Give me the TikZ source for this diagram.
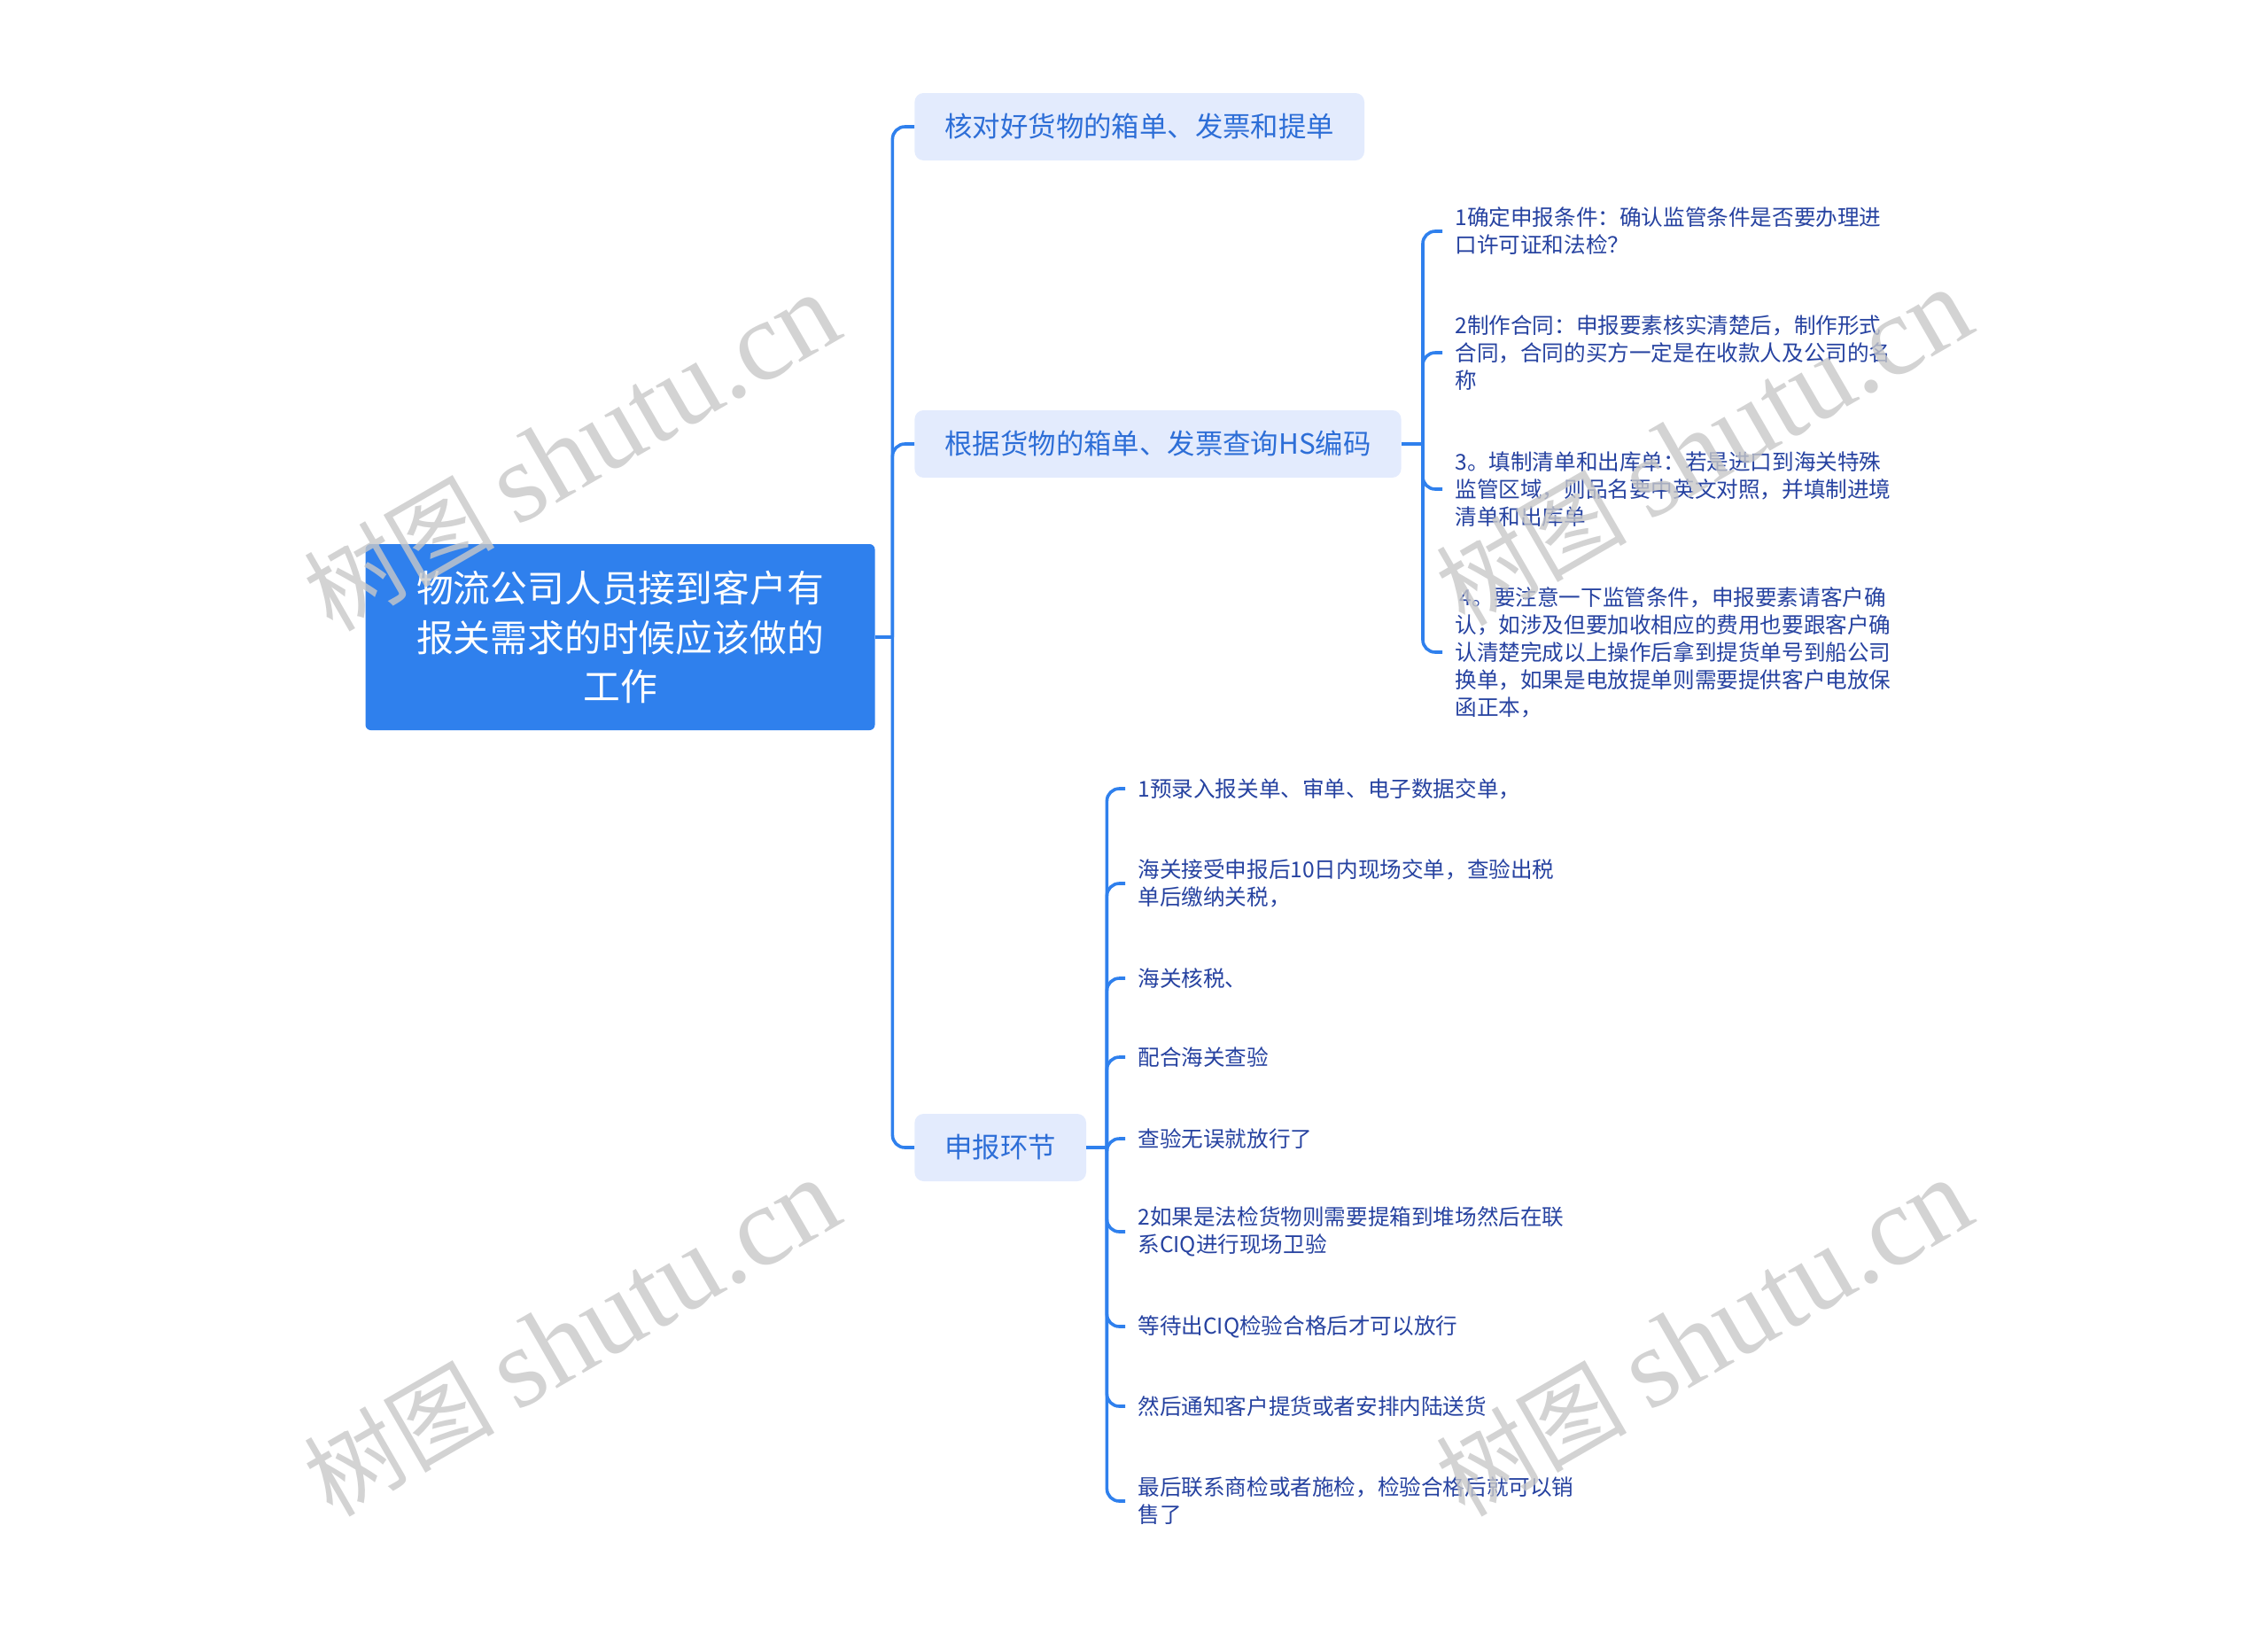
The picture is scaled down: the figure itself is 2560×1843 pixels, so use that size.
\documentclass[tikz,border=0pt]{standalone}
\usepackage{fontspec}
\setmainfont{Noto Sans CJK SC}
\newfontfamily\wmserif{Liberation Serif}
\definecolor{mapblue}{RGB}{47,128,237}
\definecolor{subfill}{RGB}{227,235,253}
\definecolor{subtext}{RGB}{45,110,215}
\definecolor{leaftext}{RGB}{38,66,160}
\definecolor{wmgray}{RGB}{200,200,200}

\begin{document}
\begin{tikzpicture}[x=0.5pt,y=-0.5pt,
    rootbox/.style={fill=mapblue,rounded corners=3pt,text=white,align=center,
      minimum width=287.5pt,minimum height=105pt,font=\fontsize{20.9}{27.8}\selectfont},
    subbox/.style={fill=subfill,rounded corners=5pt,text=subtext,anchor=west,
      inner xsep=17pt,minimum height=38pt,font=\fontsize{15.7}{19}\selectfont},
    leaf/.style={anchor=west,align=left,text=leaftext,inner xsep=7pt,inner ysep=2pt,
      font=\fontsize{12.3}{15.5}\selectfont},
    link/.style={draw=mapblue,line width=1.8pt,rounded corners=7pt},
    watermark/.style={text=wmgray,opacity=0.8,rotate=30,font=\fontsize{54}{60}\selectfont}]
  \useasboundingbox (0,0) rectangle (2560,1843);

  \node[rootbox] (root) at (700,719) {物流公司人员接到客户有\\报关需求的时候应该做的\\工作};
  \node[subbox] (b1) at (1032,143) {核对好货物的箱单、发票和提单};
  \node[subbox] (b2) at (1032,501) {根据货物的箱单、发票查询HS编码};
  \node[subbox] (b3) at (1032,1295) {申报环节};

  \draw[link] (root.east) -- ++(19.5,0) coordinate (k0);
  \foreach \b in {b1,b2,b3}
    \draw[link] (k0) |- (\b.west);

  % leaves of b2
  \foreach \y/\txt [count=\i] in {
      261/{1确定申报条件：确认监管条件是否要办理进\\口许可证和法检？},
      398/{2制作合同：申报要素核实清楚后，制作形式\\合同，合同的买方一定是在收款人及公司的名\\称},
      552/{3。填制清单和出库单：若是进口到海关特殊\\监管区域，则品名要中英文对照，并填制进境\\清单和出库单},
      736/{\ 4。要注意一下监管条件，申报要素请客户确\\认，如涉及但要加收相应的费用也要跟客户确\\认清楚完成以上操作后拿到提货单号到船公司\\换单，如果是电放提单则需要提供客户电放保\\函正本，}}
    \node[leaf] (p\i) at (1628,\y) {\txt};
  \draw[link] (b2.east) -- ++(24,0) coordinate (k2);
  \foreach \i in {1,...,4}
    \draw[link] (k2) |- (p\i.west);

  % leaves of b3
  \foreach \y/\txt [count=\i] in {
      890/{1预录入报关单、审单、电子数据交单，},
      997/{海关接受申报后10日内现场交单，查验出税\\单后缴纳关税，},
      1104/{海关核税、},
      1193/{配合海关查验},
      1285/{查验无误就放行了},
      1390/{2如果是法检货物则需要提箱到堆场然后在联\\系CIQ进行现场卫验},
      1497/{等待出CIQ检验合格后才可以放行},
      1587/{然后通知客户提货或者安排内陆送货},
      1694/{最后联系商检或者施检，检验合格后就可以销\\售了}}
    \node[leaf] (s\i) at (1270,\y) {\txt};
  \draw[link] (b3.east) -- ++(23,0) coordinate (k3);
  \foreach \i in {1,...,9}
    \draw[link] (k3) |- (s\i.west);

  \foreach \x/\y [count=\i] in {645/511,1923/505,645/1510,1923/1510}
    \node[watermark] (wm\i) at (\x,\y) {树图 {\wmserif\fontsize{64}{64}\selectfont shutu.cn}};
\end{tikzpicture}
\end{document}
